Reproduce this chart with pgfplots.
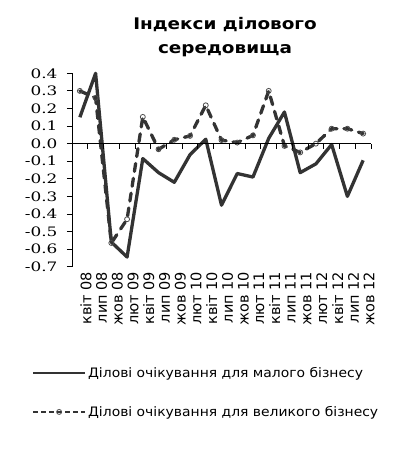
\documentclass[border=0pt]{standalone}
\usepackage{pgfplots}
\pgfplotsset{compat=1.18}
\usepackage{fontspec}
\setmainfont{DejaVu Sans}
\newfontfamily\tickfont[FakeStretch=1.3]{DejaVu Serif}
\newfontfamily\legfont[FakeStretch=1.07]{DejaVu Sans}
\newfontfamily\titlefont[FakeStretch=1.15]{DejaVu Sans Bold}
\definecolor{ln}{HTML}{333333}

\begin{document}
\begin{tikzpicture}[x=1pt,y=1pt]
\useasboundingbox (0,0) rectangle (394,459);
\node[anchor=base, font=\titlefont\fontsize{16}{16}\selectfont] at (225,429.7) {Індекси ділового};
\node[anchor=base, font=\titlefont\fontsize{16}{16}\selectfont] at (225,405.7) {середовища};
\begin{axis}[
  at={(72pt,192.3pt)}, anchor=south west,
  scale only axis, width=299pt, height=193.4pt,
  xmin=-0.5, xmax=18.5, ymin=-0.7, ymax=0.4,
  clip=false,
  axis y line=left, axis x line=bottom,
  x axis line style={draw=none},
  y axis line style={-, black, line width=0.8pt},
  xtick={0,...,18},
  xticklabels={квіт 08,лип 08,жов 08,лют 09,квіт 09,лип 09,жов 09,лют 10,квіт 10,лип 10,жов 10,лют 11,квіт 11,лип 11,жов 11,лют 12,квіт 12,лип 12,жов 12},
  xticklabel style={rotate=90, anchor=east, font=\fontsize{14.5}{14.5}\selectfont, inner sep=0pt, yshift=-6pt},
  major x tick style={draw=none},
  ytick={-0.7,-0.6,-0.5,-0.4,-0.3,-0.2,-0.1,0,0.1,0.2,0.3,0.4},
  yticklabels={-0.7,-0.6,-0.5,-0.4,-0.3,-0.2,-0.1,0.0,0.1,0.2,0.3,0.4},
  yticklabel style={font=\tickfont\fontsize{13}{13}\selectfont, xshift=-6pt},
  major y tick style={black, line width=0.8pt},
  tick align=outside, major tick length=5pt,
  legend style={at={(axis description cs:-0.134,-0.51)}, anchor=north west, draw=none, fill=none,
    font=\legfont\fontsize{13}{13}\selectfont, row sep=23pt, inner sep=0pt},
  legend cell align=left,
  legend image code/.code={\draw[mark repeat=2,mark phase=2,#1] plot coordinates {(0pt,0pt) (26pt,0pt) (52pt,0pt)};},
]
\addplot[ln, line width=3.3pt, line join=round, no marks, legend image post style={line width=2pt}] coordinates {
(0,0.15) (1,0.40) (2,-0.56) (3,-0.645) (4,-0.085) (5,-0.165) (6,-0.22) (7,-0.063) (8,0.025) (9,-0.35)
(10,-0.17) (11,-0.19) (12,0.03) (13,0.18) (14,-0.165) (15,-0.115) (16,-0.005) (17,-0.30) (18,-0.095)};
\addlegendentry{Ділові очікування для малого бізнесу}
\addplot[ln, line width=3.3pt, line cap=round, dash pattern=on 8pt off 7pt, mark=o, mark size=2.5pt,
  mark options={solid, fill=white, draw=black!70, line width=0.8pt},
  legend image post style={line width=2pt, line cap=butt, dash pattern=on 5pt off 3pt}] coordinates {
(0,0.30) (1,0.26) (2,-0.565) (3,-0.43) (4,0.152) (5,-0.032) (6,0.022) (7,0.044) (8,0.218) (9,0.02)
(10,0.006) (11,0.047) (12,0.30) (13,-0.013) (14,-0.05) (15,0.0) (16,0.085) (17,0.085) (18,0.057)};
\addlegendentry{Ділові очікування для великого бізнесу}
\end{axis}
\begin{axis}[
  at={(72pt,192.3pt)}, anchor=south west,
  scale only axis, width=299pt, height=193.4pt,
  xmin=-0.5, xmax=18.5, ymin=-0.7, ymax=0.4,
  axis x line=middle, axis y line=none,
  x axis line style={-, black, line width=0.8pt},
  xtick={-0.5,0.5,...,18.5}, xticklabels={},
  major x tick style={black, line width=0.8pt},
  tick align=outside, major tick length=5pt,
]
\end{axis}
\end{tikzpicture}
\end{document}
